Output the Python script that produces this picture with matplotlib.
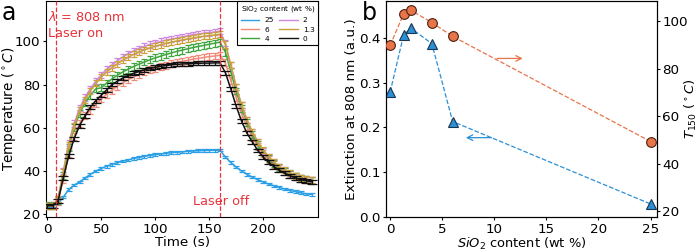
import numpy as np
import matplotlib
matplotlib.use("Agg")
import matplotlib.pyplot as plt
from matplotlib.lines import Line2D

# ---------------- Panel a data ----------------
time = np.arange(0, 250, 5)  # s

labels_a = ["25", "6", "4", "2", "1.3", "0"]

temp_25 = [24, 24, 25, 28, 31.5, 33.5, 35, 36.8, 38.5, 40, 41.2, 42.2, 43.1, 43.9, 44.6, 45.2,
           45.8, 46.3, 46.8, 47.2, 47.6, 47.9, 48.2, 48.5, 48.7, 48.9, 49.1, 49.3, 49.4, 49.5,
           49.6, 49.6, 49.7, 46.5, 44, 41.8, 40, 38.5, 37.2, 36, 35, 34, 33.2, 32.4, 31.7, 31,
           30.5, 30, 29.5, 29.2]
temp_6 = [24, 24, 26, 36, 48, 56, 62, 65.5, 68, 71, 73.3, 75.5, 77.4, 79.2, 80.8, 82.2,
          83.5, 84.7, 85.8, 86.8, 87.6, 88.3, 89, 89.6, 90.2, 90.7, 91.2, 91.7, 92.1, 92.5,
          92.9, 93.2, 93.5, 90, 82, 74, 66.5, 60.5, 55.5, 51.5, 48, 45.3, 43, 41.2, 39.6, 38.3,
          37.3, 36.5, 35.9, 35.5]
temp_4 = [24, 24, 26.5, 38, 51, 60, 66.5, 71.5, 75, 78, 78.5, 80.7, 82.6, 84.3, 85.8, 87.1,
          88.3, 89.4, 90.4, 91.4, 92.3, 93.1, 93.9, 94.6, 95.3, 95.9, 96.5, 97.1, 97.6, 98.1,
          98.6, 99.1, 99.6, 95, 86, 77, 69, 62.5, 57, 52.5, 49, 46, 43.6, 41.6, 40, 38.6,
          37.5, 36.6, 36, 35.5]
temp_2 = [24, 24, 27, 40, 53, 62, 69, 74, 78, 81.5, 84.5, 87, 89, 91, 92.7, 94.2,
          95.5, 96.6, 97.6, 98.5, 99.2, 99.9, 100.5, 101, 101.5, 102, 102.5, 103, 103.3, 103.7,
          104, 104.3, 104.6, 99, 89, 79, 70.5, 63.5, 58, 53.5, 49.5, 46.5, 44, 42, 40.3, 38.9,
          37.7, 36.8, 36.2, 35.7]
temp_13 = [24, 24, 27, 39.5, 52, 61, 68, 73, 77, 80.5, 83.3, 85.8, 87.8, 89.6, 91.2, 92.6,
           93.9, 95, 96, 96.9, 97.7, 98.4, 99, 99.6, 100.1, 100.6, 101.1, 101.5, 101.9, 102.3,
           102.6, 102.9, 103.2, 98.5, 89, 79, 70.5, 63.5, 58, 53.5, 49.8, 46.7, 44.2, 42.1, 40.4,
           39, 37.8, 36.9, 36.2, 35.7]
temp_0 = [24, 24, 26, 37, 47, 55, 61, 65.5, 69.5, 72.5, 75, 77.5, 80, 81.5, 83, 84.2,
          85.2, 86, 86.8, 87.4, 88, 88.4, 88.8, 89.1, 89.3, 89.5, 89.6, 89.7, 89.8, 89.9,
          89.9, 90, 90, 85.5, 78, 70, 63, 57.5, 53.5, 49.5, 46.5, 44, 42, 40.3, 39, 37.8,
          36.8, 36, 35.5, 35]
errors_a = [0.6, 1.6, 1.6, 1.4, 1.4, 0.9]

# ---------------- Panel b data ----------------
sio2 = [0, 1.3, 2, 4, 6, 25]
extinction = [0.279, 0.407, 0.421, 0.387, 0.213, 0.029]
t150 = [89.9, 103.3, 104.7, 99.5, 93.7, 49.4]

# ---------------- Styles ----------------
colors_a = ["#2a9fe6", "#ef8a78", "#3fa63f", "#cf86df", "#c9a23a", "#111111"]
red = "#e8333a"
orange = "#e8744a"
blue_b = "#2b8fd6"
FS = 9.7

plt.rcParams["font.family"] = ["DejaVu Sans"]
plt.rcParams["mathtext.fontset"] = "dejavusans"

W, H = 698, 252
fig = plt.figure(figsize=(W / 100, H / 100), dpi=100)
ax_rect = [0.066, 0.139, 0.390, 0.857]
ax = fig.add_axes(ax_rect)
series = [temp_25, temp_6, temp_4, temp_2, temp_13, temp_0]
for i, (vals, c, err) in enumerate(zip(series, colors_a, errors_a)):
    cap = 3.5 if i == 5 else 2.2
    ax.errorbar(time, vals, yerr=err, color=c, lw=1.1, elinewidth=0.9,
                capsize=cap, capthick=0.9, zorder=2 + i)

ax.axvline(8, color=red, ls="--", lw=0.9, zorder=10)
ax.axvline(160, color=red, ls="--", lw=0.9, zorder=10)
ax.text(1, 111, r"$\lambda$ = 808 nm", color=red, fontsize=9.3, va="center", ha="left")
ax.text(1, 103.5, "Laser on", color=red, fontsize=9.3, va="center", ha="left")
ax.text(161, 26, "Laser off", color=red, fontsize=9.3, va="center", ha="center")

ax.set_xlim(-1, 251)
ax.set_ylim(18.8, 118.6)
ax.set_xticks([0, 50, 100, 150, 200])
ax.set_yticks([20, 40, 60, 80, 100])
ax.tick_params(labelsize=FS, length=2.5, pad=1.5)
ax.set_xlabel("Time (s)", fontsize=FS, labelpad=0)
ax.set_ylabel(r"Temperature ($^\circ C$)", fontsize=9.8, ha="center", va="center")
ax.yaxis.set_label_coords((9.5 - ax_rect[0] * W) / (ax_rect[2] * W), 0.5)

handles = [Line2D([], [], color=c, lw=1.0) for c in colors_a]
leg = ax.legend(handles, labels_a, ncol=2, loc="upper right", bbox_to_anchor=(1, 1),
                borderaxespad=0, fontsize=5.3, title=r"SiO$_2$ content (wt %)",
                title_fontsize=5.3, fancybox=False, framealpha=1, edgecolor="black",
                handlelength=2.5, columnspacing=0.7, labelspacing=0.4,
                handletextpad=0.7, borderpad=0.45)
leg.get_frame().set_linewidth(0.8)
leg.set_zorder(20)

fig.text(0.002, 0.995, "a", fontsize=17, va="top", ha="left")

# ---------------- Panel b ----------------
bx_rect = [0.553, 0.139, 0.388, 0.857]
bx = fig.add_axes(bx_rect)
bx.plot(sio2, extinction, ls="--", color=blue_b, lw=0.9, marker="^", ms=7,
        mfc=blue_b, mec="#1a3550", mew=0.8, zorder=3)
bx.set_xlim(-0.4, 25.6)
bx.set_ylim(0, 0.482)
bx.set_yticks([0.0, 0.1, 0.2, 0.3, 0.4])
bx.set_xticks([0, 5, 10, 15, 20, 25])
bx.tick_params(labelsize=FS, length=2.5, pad=1.5)
bx.set_xlabel(r"$SiO_2$ content (wt %)", fontsize=9.4, va="center")
bx.xaxis.set_label_coords(0.5, -(244 - (1 - bx_rect[1]) * H) / (bx_rect[3] * H))
bx.set_ylabel("Extinction at 808 nm (a.u.)", fontsize=FS, labelpad=1)
bx.annotate("", xy=(7, 0.177), xytext=(10, 0.177),
            arrowprops=dict(arrowstyle="->", color=blue_b, lw=0.9))

tx = bx.twinx()
tx.plot(sio2, t150, ls="--", color=orange, lw=0.9, marker="o", ms=7,
        mfc=orange, mec="#4a2010", mew=0.8, zorder=3)
tx.set_ylim(17.6, 108.6)
tx.set_yticks([20, 40, 60, 80, 100])
tx.tick_params(labelsize=FS, length=2.5, pad=1.5)
tx.set_ylabel(r"$T_{150}$ ($^\circ C$)", fontsize=9.5, ha="center", va="center")
tx.yaxis.set_label_coords((690.5 - bx_rect[0] * W) / (bx_rect[2] * W), 0.5)
tx.annotate("", xy=(13, 84.4), xytext=(10, 84.4),
            arrowprops=dict(arrowstyle="->", color=orange, lw=0.9))

fig.text(0.518, 0.995, "b", fontsize=17, va="top", ha="left")

fig.savefig("out.png", dpi=100)
